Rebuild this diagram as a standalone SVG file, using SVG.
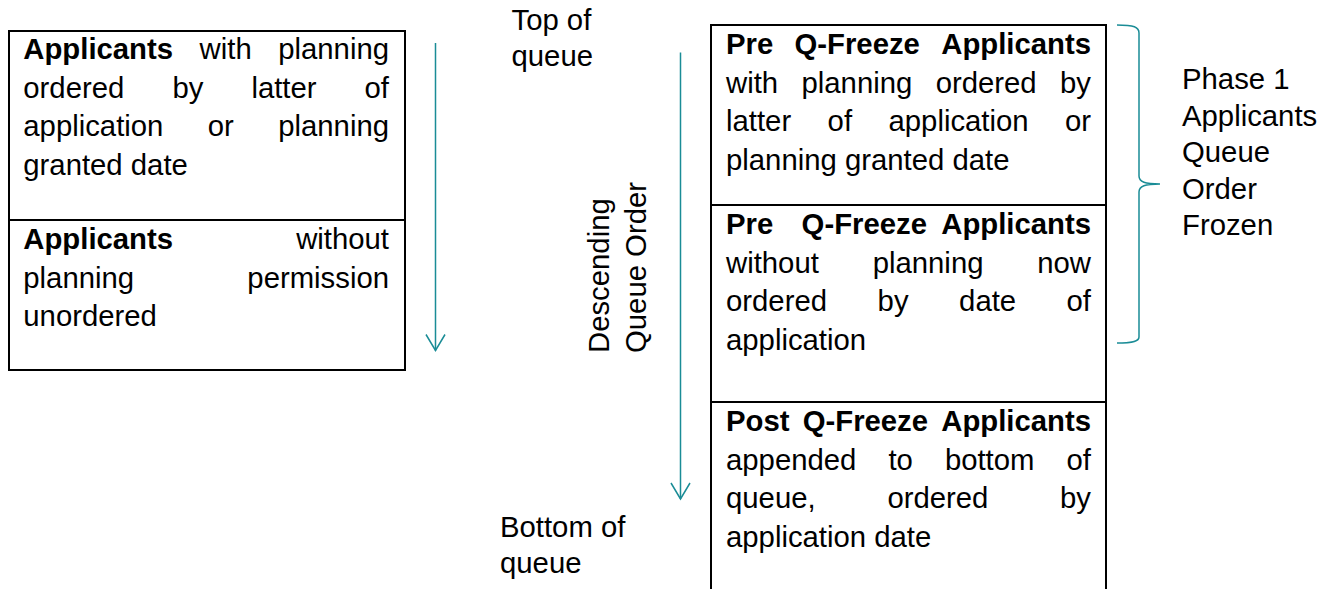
<svg xmlns="http://www.w3.org/2000/svg" width="1335" height="589" viewBox="0 0 1335 589">
<style>
text{font-family:"Liberation Sans",Arial,sans-serif;font-size:29.3px;fill:#000}
.b{font-weight:bold}
.e{text-anchor:end}
.box{fill:none;stroke:#000;stroke-width:2}
.teal{fill:none;stroke:#1A8C96;stroke-width:1.5}
</style>
<defs>
<marker id="arr" markerUnits="userSpaceOnUse" orient="auto" overflow="visible" refX="0" refY="0" markerWidth="20" markerHeight="20">
<path d="M-16,-9.5 L0,0 L-16,9.5" fill="none" stroke="#1A8C96" stroke-width="1.5"/>
</marker>
</defs>
<rect width="1335" height="589" fill="#fff"/>

<g id="left-box">
<rect class="box" x="9" y="31" width="396" height="339"/>
<line class="box" x1="9" y1="220" x2="405" y2="220"/>
<g id="left-sec1">
<text x="23.3" y="59" class="b">Applicants</text><text x="199.6" y="59">with</text><text x="389" y="59" class="e">planning</text>
<text x="23.3" y="97.5">ordered</text><text x="172.4" y="97.5">by</text><text x="251.4" y="97.5">latter</text><text x="389" y="97.5" class="e">of</text>
<text x="23.3" y="136">application</text><text x="207.8" y="136">or</text><text x="389" y="136" class="e">planning</text>
<text x="23.3" y="174.5">granted date</text>
</g>
<g id="left-sec2">
<text x="23.3" y="249" class="b">Applicants</text><text x="389" y="249" class="e">without</text>
<text x="23.3" y="287.5">planning</text><text x="389" y="287.5" class="e">permission</text>
<text x="23.3" y="326">unordered</text>
</g>
</g>

<g id="right-box">
<path class="box" d="M711,600 V25 H1106 V600"/>
<line class="box" x1="711" y1="205" x2="1106" y2="205"/>
<line class="box" x1="711" y1="402" x2="1106" y2="402"/>
<g id="right-sec1">
<text x="726" y="54" class="b">Pre</text><text x="794.5" y="54" class="b">Q-Freeze</text><text x="1091" y="54" class="b e">Applicants</text>
<text x="726" y="92.5">with</text><text x="801.5" y="92.5">planning</text><text x="935.7" y="92.5">ordered</text><text x="1091" y="92.5" class="e">by</text>
<text x="726" y="131">latter</text><text x="827.6" y="131">of</text><text x="888.5" y="131">application</text><text x="1091" y="131" class="e">or</text>
<text x="726" y="169.5">planning granted date</text>
</g>
<g id="right-sec2">
<text x="726" y="234" class="b">Pre</text><text x="801.6" y="234" class="b">Q-Freeze</text><text x="1091" y="234" class="b e">Applicants</text>
<text x="726" y="272.5">without</text><text x="872.7" y="272.5">planning</text><text x="1091" y="272.5" class="e">now</text>
<text x="726" y="311">ordered</text><text x="877.6" y="311">by</text><text x="959.1" y="311">date</text><text x="1091" y="311" class="e">of</text>
<text x="726" y="349.5">application</text>
</g>
<g id="right-sec3">
<text x="726" y="431" class="b">Post</text><text x="802.7" y="431" class="b">Q-Freeze</text><text x="1091" y="431" class="b e">Applicants</text>
<text x="726" y="469.5">appended</text><text x="888.4" y="469.5">to</text><text x="944.9" y="469.5">bottom</text><text x="1091" y="469.5" class="e">of</text>
<text x="726" y="508">queue,</text><text x="887.4" y="508">ordered</text><text x="1091" y="508" class="e">by</text>
<text x="726" y="546.5">application date</text>
</g>
</g>

<g id="top-label">
<text x="511.5" y="30">Top of</text>
<text x="511.5" y="66">queue</text>
</g>
<g id="bottom-label">
<text x="500" y="537">Bottom of</text>
<text x="500" y="573">queue</text>
</g>
<g id="order-label">
<text transform="translate(608.5,353) rotate(-90)">Descending</text>
<text transform="translate(646,353) rotate(-90)">Queue Order</text>
</g>
<g id="phase-label">
<text x="1182" y="89">Phase 1</text>
<text x="1182" y="125.5">Applicants</text>
<text x="1182" y="162">Queue</text>
<text x="1182" y="198.5">Order</text>
<text x="1182" y="235">Frozen</text>
</g>

<g id="connectors">
<line class="teal" x1="435.5" y1="43" x2="435.5" y2="350.5" marker-end="url(#arr)"/>
<line class="teal" x1="680.5" y1="52.5" x2="680.5" y2="499" marker-end="url(#arr)"/>
<path class="teal" d="M1117,25 C1134,25 1139,27 1139,33 V176 C1139,182 1145,184 1160,184 C1145,184 1139,186 1139,192 V337 C1139,341 1134,343 1117,343"/>
</g>
</svg>
